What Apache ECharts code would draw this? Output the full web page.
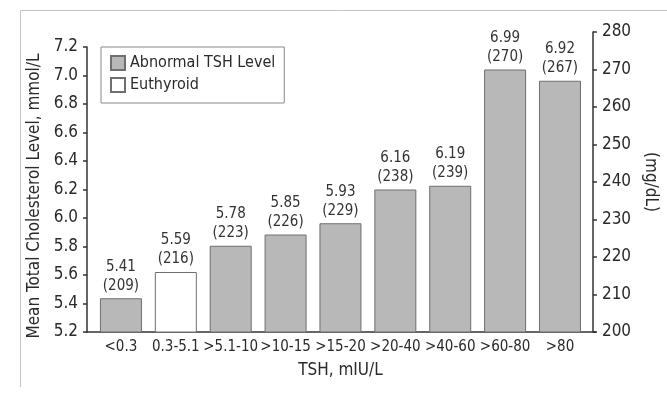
<!DOCTYPE html>
<html>
<head>
<meta charset="utf-8">
<script src="https://cdn.jsdelivr.net/npm/echarts@6/dist/echarts.min.js"></script>
<style>
  html, body { margin: 0; padding: 0; background: #fff; }
  #chart { width: 667px; height: 399px; }
</style>
</head>
<body>
<div id="chart"></div>
<script>
// TSH groups and mean cholesterol (mmol/L with mg/dL in brackets)
const categories = ['<0.3', '0.3-5.1', '>5.1-10', '>10-15', '>15-20', '>20-40', '>40-60', '>60-80', '>80'];
const mmolValues = [5.41, 5.59, 5.78, 5.85, 5.93, 6.16, 6.19, 6.99, 6.92];
const mgdlValues = [209, 216, 223, 226, 229, 238, 239, 270, 267];
const groupType = ['abnormal', 'euthyroid', 'abnormal', 'abnormal', 'abnormal', 'abnormal', 'abnormal', 'abnormal', 'abnormal'];
const mmolTicks = [5.2, 7.2, 0.2];
const mgdlTicks = [200, 280, 10];

const font = "'DejaVu Sans Condensed', 'Liberation Sans', sans-serif";
const textColor = '#2a2a2a';

const chart = echarts.init(document.getElementById('chart'));

function seriesData(type) {
  return mgdlValues.map((v, i) => groupType[i] === type ? v : '-');
}

const labelOpt = {
  show: true,
  position: 'top',
  distance: 3,
  color: '#333',
  fontFamily: font,
  fontSize: 15,
  lineHeight: 19,
  formatter: p => mmolValues[p.dataIndex].toFixed(2) + '\n(' + mgdlValues[p.dataIndex] + ')'
};

const option = {
  animation: false,
  textStyle: { fontFamily: font },
  graphic: [{
    type: 'polyline',
    shape: { points: [[20.5, 387], [20.5, 10.5], [667, 10.5]] },
    style: { stroke: '#c4c4c4', lineWidth: 1, fill: null },
    silent: true
  }],
  legend: {
    left: 101,
    top: 47,
    orient: 'vertical',
    icon: 'rect',
    itemWidth: 14,
    itemHeight: 14,
    itemGap: 6,
    padding: [8, 9, 10, 9],
    borderColor: '#8a8a8a',
    borderWidth: 1,
    textStyle: { color: textColor, fontFamily: font, fontSize: 16 },
    data: ['Abnormal TSH Level', 'Euthyroid']
  },
  grid: [
    { left: 93.5, right: 76.5, top: 32, bottom: 67 },
    { left: 87, right: 71, top: 47, bottom: 67 }
  ],
  xAxis: [
    {
      type: 'category',
      gridIndex: 0,
      data: categories,
      axisLine: { show: false },
      axisTick: { show: false },
      axisLabel: { color: textColor, fontFamily: font, fontSize: 15, margin: 8, interval: 0 },
      name: 'TSH, mIU/L',
      nameLocation: 'middle',
      nameGap: 30,
      nameTextStyle: { color: textColor, fontFamily: font, fontSize: 17 }
    },
    {
      type: 'value',
      gridIndex: 1,
      min: 0,
      max: 1,
      axisLine: { show: true, lineStyle: { color: '#333', width: 1.5 } },
      axisTick: { show: false },
      axisLabel: { show: false },
      splitLine: { show: false }
    }
  ],
  yAxis: [
    {
      type: 'value',
      gridIndex: 0,
      position: 'right',
      offset: 5.5,
      min: mgdlTicks[0],
      max: mgdlTicks[1],
      interval: mgdlTicks[2],
      axisLine: { show: true, lineStyle: { color: '#333', width: 1.5 } },
      axisTick: { show: true, length: 4, lineStyle: { color: '#333', width: 1.5 } },
      axisLabel: { color: textColor, fontFamily: font, fontSize: 17, margin: 9 },
      splitLine: { show: false },
      name: '(mg/dL)',
      nameLocation: 'middle',
      nameRotate: -90,
      nameGap: 46,
      nameTextStyle: { color: textColor, fontFamily: font, fontSize: 17 }
    },
    {
      type: 'value',
      gridIndex: 1,
      position: 'left',
      min: mmolTicks[0],
      max: mmolTicks[1],
      interval: mmolTicks[2],
      axisLine: { show: true, lineStyle: { color: '#333', width: 1.5 } },
      axisTick: { show: true, length: 4, lineStyle: { color: '#333', width: 1.5 } },
      axisLabel: {
        color: textColor, fontFamily: font, fontSize: 17, margin: 9,
        formatter: v => v.toFixed(1)
      },
      splitLine: { show: false },
      name: 'Mean Total Cholesterol Level, mmol/L',
      nameLocation: 'middle',
      nameGap: 38,
      nameTextStyle: { color: textColor, fontFamily: font, fontSize: 17, padding: [0, 13, 0, 0] }
    }
  ],
  series: [
    {
      name: 'Abnormal TSH Level',
      type: 'bar',
      xAxisIndex: 0,
      yAxisIndex: 0,
      barWidth: 42,
      barGap: '-100%',
      data: seriesData('abnormal'),
      itemStyle: { color: '#b8b8b8', borderColor: '#6f6f6f', borderWidth: 1 },
      label: labelOpt
    },
    {
      name: 'Euthyroid',
      type: 'bar',
      xAxisIndex: 0,
      yAxisIndex: 0,
      barWidth: 42,
      barGap: '-100%',
      data: seriesData('euthyroid'),
      itemStyle: { color: '#ffffff', borderColor: '#6f6f6f', borderWidth: 1 },
      label: labelOpt
    }
  ]
};

chart.setOption(option);
</script>
</body>
</html>
